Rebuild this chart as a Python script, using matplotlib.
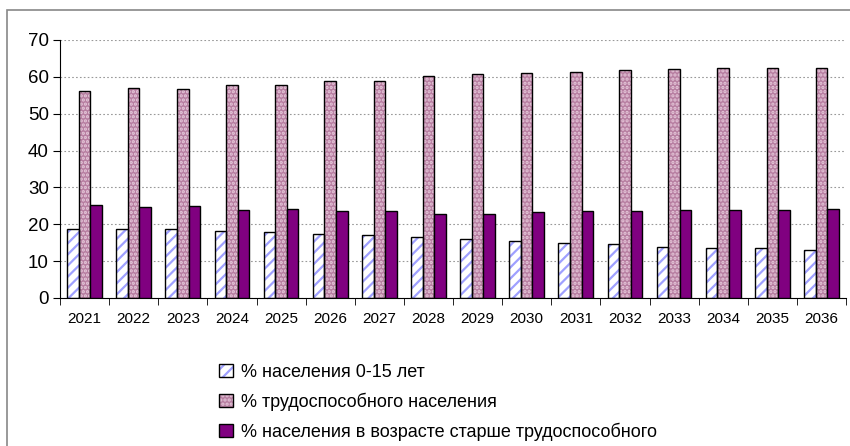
import numpy as np
import matplotlib
matplotlib.use("Agg")
import matplotlib.pyplot as plt
from matplotlib.patches import Rectangle, Patch
from matplotlib.legend_handler import HandlerTuple

plt.rcParams["font.family"] = ["Liberation Sans", "DejaVu Sans"]
plt.rcParams["hatch.linewidth"] = 1.6

years = ["2021", "2022", "2023", "2024", "2025", "2026", "2027", "2028",
         "2029", "2030", "2031", "2032", "2033", "2034", "2035", "2036"]
young = [18.6, 18.6, 18.7, 18.2, 17.8, 17.4, 17.0, 16.6,
         16.0, 15.6, 14.9, 14.6, 13.8, 13.5, 13.5, 13.1]
working = [56.2, 57.1, 56.8, 57.8, 57.8, 59.0, 59.0, 60.3,
           60.7, 61.1, 61.4, 61.8, 62.2, 62.5, 62.5, 62.5]
elderly = [25.3, 24.6, 24.9, 23.9, 24.2, 23.6, 23.6, 22.8,
           22.8, 23.2, 23.6, 23.6, 23.9, 23.9, 23.9, 24.2]
labels = ["% населения 0-15 лет",
          "% трудоспособного населения",
          "% населения в возрасте старше трудоспособного"]

BLUE_HATCH = "#9fa0ff"
PINK = "#b77ea1"
PINK_DOTS = "#e6c8da"
PURPLE = "#800080"

fig = plt.figure(figsize=(8.5, 4.46), dpi=100)
ax = fig.add_axes([60 / 850, 1 - 298 / 446, 786 / 850, 258 / 446])

x = np.arange(len(years))
w = 0.235

# fill + hatch layer, then black outline layer
ax.bar(x - w, young, w, color="white", edgecolor=BLUE_HATCH, hatch="///", lw=0, zorder=2)
ax.bar(x - w, young, w, color="none", edgecolor="black", lw=1, zorder=3)
ax.bar(x, working, w, color=PINK, edgecolor=PINK_DOTS, hatch="....", lw=0, zorder=2)
ax.bar(x, working, w, color="none", edgecolor="black", lw=1, zorder=3)
ax.bar(x + w, elderly, w, color=PURPLE, edgecolor="black", lw=1, zorder=3)

ax.set_xlim(-0.5, len(years) - 0.5)
ax.set_ylim(0, 70)
ax.set_yticks(range(0, 71, 10))
ax.tick_params(axis="y", labelsize=13.5, length=5, direction="out", pad=3)
ax.set_xticks(x)
ax.set_xticklabels(years, fontsize=11)
ax.tick_params(axis="x", length=0, pad=10)
ax.set_xticks(np.arange(len(years) + 1) - 0.5, minor=True)
ax.tick_params(axis="x", which="minor", length=5, direction="out")
for s in ("top", "right"):
    ax.spines[s].set_visible(False)
ax.grid(axis="y", color="#999999", ls=(0, (1.5, 2)), lw=0.8, zorder=0)

handles = [
    (Patch(facecolor="white", edgecolor=BLUE_HATCH, hatch="///", lw=0),
     Patch(facecolor="none", edgecolor="black", lw=1)),
    (Patch(facecolor=PINK, edgecolor=PINK_DOTS, hatch="....", lw=0),
     Patch(facecolor="none", edgecolor="black", lw=1)),
    Patch(facecolor=PURPLE, edgecolor="black", lw=1),
]
fig.legend(handles, labels, loc="upper left", bbox_to_anchor=(210 / 850, 1 - 355 / 446),
           frameon=False, fontsize=13, handlelength=0.75, handleheight=0.75,
           handletextpad=0.45, labelspacing=0.65, borderpad=0,
           handler_map={tuple: HandlerTuple(ndivide=1, pad=0)})

fig.patches.append(Rectangle((7 / 850, -0.05), 1.1, 1 - 10 / 446 + 0.05,
                             transform=fig.transFigure, fill=False,
                             edgecolor="#888888", lw=1.2))

fig.savefig("out.png", dpi=100)
